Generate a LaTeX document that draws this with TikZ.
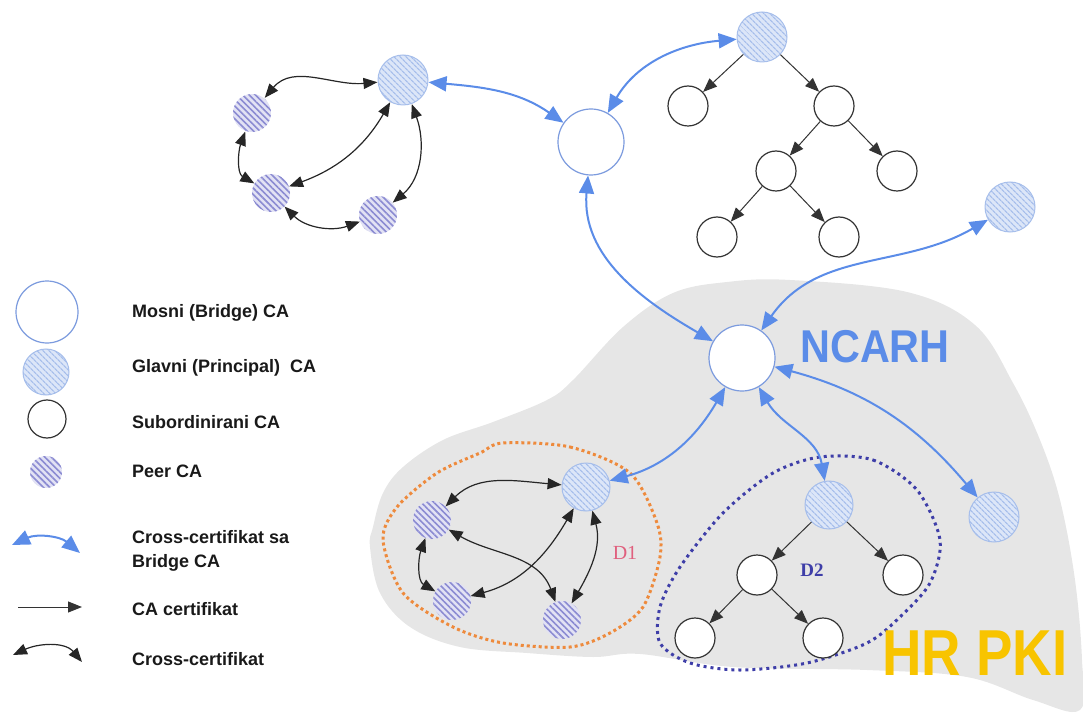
\documentclass[tikz,border=0pt]{standalone}
\usepackage{fontspec}
\setmainfont{Liberation Sans}
\newfontfamily\timesfont{Liberation Serif}
\usetikzlibrary{arrows.meta,patterns.meta}

\definecolor{bluelink}{HTML}{5B8CE8}
\definecolor{bridgeline}{HTML}{7C9BDE}
\definecolor{princfill}{HTML}{DCE6F8}
\definecolor{princline}{HTML}{A6BEEB}
\definecolor{peerfill}{HTML}{E2E2F4}
\definecolor{peerline}{HTML}{8B8BD2}
\definecolor{blobgray}{HTML}{E6E6E6}
\definecolor{dorange}{HTML}{EE8A3C}
\definecolor{dpurple}{HTML}{3E3EA8}
\definecolor{pkiyellow}{HTML}{F8C400}
\definecolor{dpink}{HTML}{E0607E}

\begin{document}
\begin{tikzpicture}[x=1pt,y=1pt]
	\tikzstyle{every node}+=[inner sep=0pt]
	\tikzstyle{bridge}=[circle,draw=bridgeline,line width=1.2pt,fill=white,minimum size=66pt]
	\tikzstyle{principal}=[circle,draw=princline,line width=1pt,preaction={fill=princfill},pattern={Lines[angle=-45,distance=4pt,line width=1.3pt]},pattern color=princline,minimum size=50pt]
	\tikzstyle{peer}=[circle,preaction={fill=peerfill},pattern={Lines[angle=-45,distance=4.5pt,line width=1.6pt]},pattern color=peerline,minimum size=38pt]
	\tikzstyle{sub}=[circle,draw=black!80,line width=1.2pt,fill=white,minimum size=40pt]
	\tikzstyle{bluex}=[bluelink,line width=2pt,{Triangle[length=18pt,width=15pt]}-{Triangle[length=18pt,width=15pt]}]
	\tikzstyle{crossx}=[black!85,line width=1.2pt,{Triangle[length=14pt,width=11pt]}-{Triangle[length=14pt,width=11pt]}]
	\tikzstyle{cert}=[black!80,line width=1pt,-{Triangle[length=14pt,width=11pt]}]
	\tikzstyle{legtext}=[anchor=base west,font=\fontsize{18}{20}\selectfont\bfseries,text=black!90]
	\useasboundingbox (0,0) rectangle (1083,724);
	% HR PKI area and domains
	\fill [blobgray] plot [smooth cycle,tension=0.6] coordinates {(373,197) (383,231) (403,257) (443,284) (493,302) (547,324) (573,344) (623,397) (673,431) (727,442) (790,444) (907,432) (975,399) (1013,341) (1040,284) (1060,224) (1075,144) (1082,64) (1080,14) (1033,24) (967,47) (867,54) (733,57) (640,70) (593,67) (527,71) (460,77) (410,97) (380,131) (370,177)};
	\draw [dorange,line width=3pt,dash pattern=on 3pt off 3pt] plot [smooth cycle] coordinates {(503,281) (570,277) (630,251) (657,201) (660,167) (643,117) (610,91) (570,77) (503,81) (453,97) (403,131) (383,184) (397,217) (437,251) (480,271)};
	\draw [dpurple,line width=3pt,dash pattern=on 3pt off 4pt] plot [smooth cycle] coordinates {(820,267) (873,264) (917,234) (940,184) (930,141) (900,107) (867,81) (807,61) (740,54) (690,61) (660,81) (660,117) (680,157) (723,211) (773,251)};
	% top left peers
	\node [principal] (pA1) at (403,644) {};
	\node [peer] (peerA) at (252,611) {};
	\node [peer] (peerB) at (271,531) {};
	\node [peer] (peerC) at (378,509) {};
	\draw [crossx] (peerA) to [out=50,in=185] (pA1);
	\draw [crossx] (peerA) to [out=250,in=150] (peerB);
	\draw [crossx] (peerB) to [out=20,in=240] (pA1);
	\draw [crossx] (pA1) to [out=-70,in=40] (peerC);
	\draw [crossx] (peerB) to [out=-45,in=200] (peerC);
	% top bridge and tree
	\node [bridge] (bridgeTop) at (591,582) {};
	\node [principal] (pA2) at (762,687) {};
	\node [sub] (s1) at (688,618) {};
	\node [sub] (s2) at (834,618) {};
	\node [sub] (s3) at (776,553) {};
	\node [sub] (s4) at (897,553) {};
	\node [sub] (s5) at (717,487) {};
	\node [sub] (s6) at (839,487) {};
	\draw [cert] (pA2) -- (s1);
	\draw [cert] (pA2) -- (s2);
	\draw [cert] (s2) -- (s3);
	\draw [cert] (s2) -- (s4);
	\draw [cert] (s3) -- (s5);
	\draw [cert] (s3) -- (s6);
	\node [principal] (pA3) at (1010,517) {};
	% NCARH
	\node [bridge] (ncarh) at (742,366) {};
	\node [text=bluelink,font=\fontsize{46}{48}\selectfont\bfseries] (ncarhLabel) at (875,377) {\scalebox{0.9}[1]{NCARH}};
	\draw [bluex] (pA1) to [out=-5,in=145] (bridgeTop);
	\draw [bluex] (bridgeTop) to [out=60,in=185] (pA2);
	\draw [bluex] (bridgeTop) to [out=-95,in=150] (ncarh);
	\draw [bluex] (ncarh) to [out=55,in=210] (pA3);
	% D1
	\node [principal,minimum size=48pt] (pD1) at (586,237) {};
	\node [peer] (peerD) at (432,204) {};
	\node [peer] (peerE) at (452,123) {};
	\node [peer] (peerF) at (562,104) {};
	\draw [crossx] (peerD) to [out=45,in=175] (pD1);
	\draw [crossx] (peerD) to [out=250,in=150] (peerE);
	\draw [crossx] (pD1) to [out=240,in=15] (peerE);
	\draw [crossx] (peerD) to [out=-30,in=110] (peerF);
	\draw [crossx] (pD1) to [out=-75,in=60] (peerF);
	\node [text=dpink,font=\timesfont\fontsize{20}{22}\selectfont] (d1Label) at (625,171) {D1};
	% D2
	\node [principal,minimum size=48pt] (pD2) at (829,219) {};
	\node [sub] (t1) at (757,149) {};
	\node [sub] (t2) at (903,149) {};
	\node [sub] (t3) at (695,86) {};
	\node [sub] (t4) at (823,86) {};
	\draw [cert] (pD2) -- (t1);
	\draw [cert] (pD2) -- (t2);
	\draw [cert] (t1) -- (t3);
	\draw [cert] (t1) -- (t4);
	\node [text=dpurple,font=\timesfont\fontsize{19}{21}\selectfont\bfseries] (d2Label) at (812,154) {D2};
	\node [principal] (pA4) at (994,207) {};
	\draw [bluex] (ncarh) to [out=240,in=15] (pD1);
	\draw [bluex] (ncarh) to [out=-60,in=100] (pD2);
	\draw [bluex] (ncarh) to [out=-15,in=130] (pA4);
	\node [text=pkiyellow,font=\fontsize{65}{68}\selectfont\bfseries] (pkiLabel) at (975,71) {\scalebox{0.84}[1]{HR PKI}};
	% legend
	\node [bridge,minimum size=62pt] (legBridge) at (47,412) {};
	\node [principal,minimum size=46pt] (legPrincipal) at (46,352) {};
	\node [sub,minimum size=38pt] (legSub) at (47,305) {};
	\node [peer,minimum size=32pt] (legPeer) at (46,252) {};
	\coordinate (legBlueL) at (12,179);
	\coordinate (legBlueR) at (80,171);
	\coordinate (legCertL) at (18,117);
	\coordinate (legCertR) at (82,117);
	\coordinate (legCrossL) at (13,69);
	\coordinate (legCrossR) at (82,62);
	\draw [bluex] (legBlueL) to [out=25,in=140] (legBlueR);
	\draw [cert] (legCertL) -- (legCertR);
	\draw [crossx] (legCrossL) to [out=25,in=130] (legCrossR);
	\node [legtext] (txtBridge) at (132,407) {Mosni (Bridge) CA};
	\node [legtext] (txtPrincipal) at (132,352) {Glavni (Principal)\ \ CA};
	\node [legtext] (txtSub) at (132,296) {Subordinirani CA};
	\node [legtext] (txtPeer) at (132,247) {Peer CA};
	\node [legtext] (txtBlue) at (132,181) {Cross-certifikat sa};
	\node [legtext] (txtBlue2) at (132,157) {Bridge CA};
	\node [legtext] (txtCert) at (132,109) {CA certifikat};
	\node [legtext] (txtCross) at (132,59) {Cross-certifikat};
\end{tikzpicture}
\end{document}
